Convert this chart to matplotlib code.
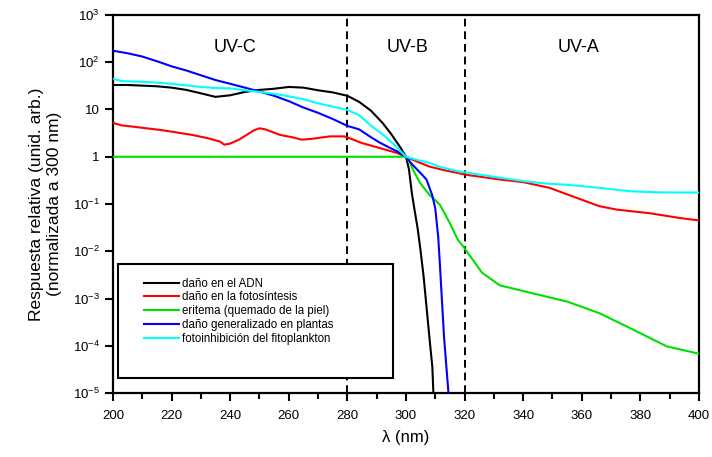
import matplotlib
matplotlib.use('Agg')
import matplotlib.pyplot as plt
from matplotlib.patches import Rectangle
import numpy as np

plt.rcParams['font.family'] = ['Liberation Sans', 'DejaVu Sans']
plt.rcParams['mathtext.default'] = 'regular'

# daño en el ADN
lam_adn = [200, 205, 210, 215, 220, 225, 230, 235, 240, 245, 250, 255, 260, 265, 270, 275, 280,
           284, 288, 292, 295, 298, 300, 301, 302, 303, 304, 305, 306, 307, 308, 309, 310]
val_adn = [33, 33, 32, 31, 29, 26, 22, 18.5, 20, 23.5, 26, 27.5, 30, 29, 25.5, 23, 19.5,
           14.5, 9.5, 5.2, 3.0, 1.6, 1.0, 0.55, 0.17, 0.07, 0.03, 0.01, 0.003, 6.7e-4, 1.5e-4, 3.5e-5, 1e-6]

# daño en la fotosíntesis
lam_foto = [200, 203, 206, 210, 216, 220, 227, 232, 236.5, 238, 240, 243, 246, 248, 250, 252, 257,
            261, 264.5, 268, 274, 279, 282, 285, 291, 297, 300, 304, 308, 313, 318, 320, 332, 340,
            349, 355, 360, 366, 372, 383, 394, 400]
val_foto = [5.2, 4.6, 4.4, 4.1, 3.7, 3.4, 2.9, 2.5, 2.1, 1.8, 1.9, 2.3, 3.0, 3.6, 4.0, 3.8, 2.9,
            2.6, 2.3, 2.4, 2.7, 2.7, 2.3, 1.95, 1.53, 1.2, 1.0, 0.78, 0.62, 0.52, 0.45, 0.42, 0.33, 0.29,
            0.22, 0.16, 0.123, 0.09, 0.076, 0.064, 0.05, 0.045]

# eritema
lam_erit = [200, 300, 301.4, 302.4, 304.8, 308, 311.6, 315, 317.7, 319.5, 326, 332, 343, 355,
            366, 377.5, 389, 400]
val_erit = [1, 1, 0.75, 0.53, 0.28, 0.157, 0.096, 0.039, 0.0175, 0.0127, 0.0035, 0.0019, 0.0013, 8.6e-4,
            4.9e-4, 2.2e-4, 9.7e-5, 6.8e-5]

# daño generalizado en plantas
lam_plan = [200, 205, 210, 215, 220, 225, 230, 235, 240, 245, 250, 255, 260, 265, 270, 275, 280,
            284, 288, 291, 294, 297, 300, 302, 305, 307, 309, 310, 311, 311.6, 312, 313, 314.5, 315]
val_plan = [175, 155, 132, 105, 82, 67, 53, 42, 35, 29, 24, 19.5, 15, 11, 8.5, 6.3, 4.5,
            3.8, 2.6, 2.0, 1.6, 1.3, 1.0, 0.7, 0.45, 0.33, 0.15, 0.08, 0.02, 0.005, 0.0018, 1.5e-4, 1e-5, 1e-6]

# fotoinhibición del fitoplankton
lam_fito = [200, 203, 210, 215, 220, 225, 230, 235, 240, 245, 250, 255, 260, 265, 270, 275, 280,
            284, 288, 292, 296, 300, 304, 308, 312, 318, 325, 332, 341, 348, 355, 366, 377, 387, 400]
val_fito = [45, 40, 38.5, 37, 35, 32.5, 30, 28.5, 28, 25.5, 23.5, 21.5, 19, 16.5, 13.5, 11.5, 9.8,
            7.6, 4.6, 3.0, 1.8, 1.0, 0.85, 0.74, 0.6, 0.49, 0.42, 0.36, 0.30, 0.27, 0.255, 0.22, 0.185, 0.176, 0.175]

series = [
    (lam_adn, val_adn, 'black', 'daño en el ADN'),
    (lam_foto, val_foto, 'red', 'daño en la fotosíntesis'),
    (lam_erit, val_erit, '#00e000', 'eritema (quemado de la piel)'),
    (lam_plan, val_plan, 'blue', 'daño generalizado en plantas'),
    (lam_fito, val_fito, 'cyan', 'fotoinhibición del fitoplankton'),
]

bands = ['UV-C', 'UV-B', 'UV-A']
band_x = [241.5, 300.5, 359]
bounds = [200, 280, 320]

fig = plt.figure(figsize=(7.12, 4.57), dpi=100)
ax = fig.add_axes([0.1587, 0.14, 0.823, 0.8272])

for b in bounds:
    ax.axvline(b, color='black', lw=1.4, ls=(0, (4, 2.5)), zorder=1)

for lam, val, c, lab in series:
    ax.plot(lam, val, color=c, lw=1.5, label=lab, zorder=3)

ax.set_yscale('log')
ax.set_xlim(200, 400)
ax.set_ylim(1e-5, 1e3)

yt = [1e-5, 1e-4, 1e-3, 1e-2, 1e-1, 1, 10, 1e2, 1e3]
ylab = ['10$^{-5}$', '10$^{-4}$', '10$^{-3}$', '10$^{-2}$', '10$^{-1}$', '1', '10', '10$^{2}$', '10$^{3}$']
ax.set_yticks(yt)
ax.set_yticklabels(ylab, fontsize=9.5)
ax.yaxis.set_minor_locator(matplotlib.ticker.NullLocator())
ax.set_xticks(np.arange(200, 401, 20))
ax.set_xticks(np.arange(210, 400, 20), minor=True)
ax.tick_params(axis='x', labelsize=9.5, pad=6)
ax.tick_params(which='major', direction='out', length=6, width=1.5)
ax.tick_params(which='minor', direction='out', length=4, width=1.5)
for s in ax.spines.values():
    s.set_linewidth(1.6)

for t, x in zip(bands, band_x):
    ax.text(x, 210, t, fontsize=13, ha='center', va='center')

ax.set_xlabel('λ (nm)', fontsize=12, labelpad=6)
ax.set_ylabel('Respuesta relativa (unid. arb.)\n(normalizada a 300 nm)', fontsize=12.5, labelpad=8)

ax.add_patch(Rectangle((0.0085, 0.04), 0.47, 0.301, transform=ax.transAxes,
                       fill=True, facecolor='white', edgecolor='black', lw=1.5, zorder=4))
leg = ax.legend(loc='upper left', bbox_to_anchor=(0.053, 0.305), frameon=False,
                fontsize=8.3, handlelength=3.0, handletextpad=0.3, labelspacing=0.15,
                borderpad=0, borderaxespad=0)
leg.set_zorder(5)

fig.savefig('out.png', dpi=100)
